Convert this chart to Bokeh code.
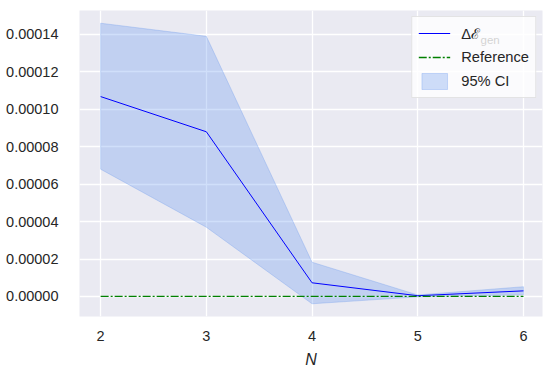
from bokeh.plotting import figure
from bokeh.embed import file_html
from bokeh.resources import INLINE
from bokeh.models import FixedTicker, PrintfTickFormatter, Legend, LegendItem, Label, Range1d

N_vals = [2, 3, 4, 5, 6]
mean_vals = [0.0001068, 0.0000880, 0.0000073, 0.0000004, 0.0000030]
ci_upper = [0.0001460, 0.0001390, 0.0000183, 0.0000008, 0.0000052]
ci_lower = [0.0000680, 0.0000370, -0.0000039, -0.0000002, 0.0000009]
ref_vals = [0.0, 0.0, 0.0, 0.0, 0.0]
y_ticks = [0.0, 0.00002, 0.00004, 0.00006, 0.00008, 0.00010, 0.00012, 0.00014]
x_ticks = [2, 3, 4, 5, 6]

FONT = "Liberation Sans"

p = figure(width=548, height=374, output_backend="svg", toolbar_location=None,
           x_range=Range1d(1.80, 6.18), y_range=Range1d(-0.0000107, 0.0001528),
           min_border_left=79, min_border_right=6, min_border_top=10, min_border_bottom=58,
           background_fill_color="#eaeaf2", border_fill_color="white", outline_line_color=None)

band = p.patch(N_vals + N_vals[::-1], ci_upper + ci_lower[::-1],
               fill_color="cornflowerblue", fill_alpha=0.3,
               line_color="cornflowerblue", line_alpha=0.3, line_width=1)
mean_r = p.line(N_vals, mean_vals, line_color="blue", line_width=1.0)
ref_r = p.line(N_vals, ref_vals, line_color="green", line_width=1.3, line_dash="8 2 2 2")

for ax in (p.xaxis, p.yaxis):
    ax.axis_line_color = None
    ax.major_tick_line_color = None
    ax.minor_tick_line_color = None
    ax.major_label_text_font = FONT
    ax.major_label_text_font_size = "14.5px"
    ax.major_label_text_color = "#262626"

p.xaxis.ticker = FixedTicker(ticks=x_ticks)
p.yaxis.ticker = FixedTicker(ticks=y_ticks)
p.yaxis.formatter = PrintfTickFormatter(format="%.5f")
p.yaxis.major_label_standoff = 15
p.xaxis.major_label_standoff = 8
p.xaxis.axis_label = "N"
p.xaxis.axis_label_text_font = FONT
p.xaxis.axis_label_text_font_style = "italic"
p.xaxis.axis_label_text_font_size = "16px"
p.xaxis.axis_label_text_color = "#262626"
p.xaxis.axis_label_standoff = 7

p.xgrid.grid_line_color = "white"
p.ygrid.grid_line_color = "white"
p.xgrid.grid_line_width = 1.3
p.ygrid.grid_line_width = 1.3

legend = Legend(items=[LegendItem(label="Δℰ", renderers=[mean_r]),
                       LegendItem(label="Reference", renderers=[ref_r]),
                       LegendItem(label="95% CI", renderers=[band])],
                location="top_right")
legend.margin = 6
legend.padding = 6
legend.spacing = 4
legend.label_standoff = 11
legend.glyph_width = 32
legend.label_text_font = FONT
legend.label_text_font_size = "14.7px"
legend.label_text_color = "#262626"
legend.background_fill_color = "white"
legend.background_fill_alpha = 0.8
legend.border_line_color = "#cccccc"
legend.border_line_width = 1
p.add_layout(legend)

sub = Label(x=401, y=277, x_units="screen", y_units="screen", text="gen",
            text_baseline="alphabetic", level="overlay",
            text_font=FONT, text_font_size="11.5px", text_color="#1a1a1a")
p.add_layout(sub)

open("out.html", "w").write(file_html(p, INLINE))
